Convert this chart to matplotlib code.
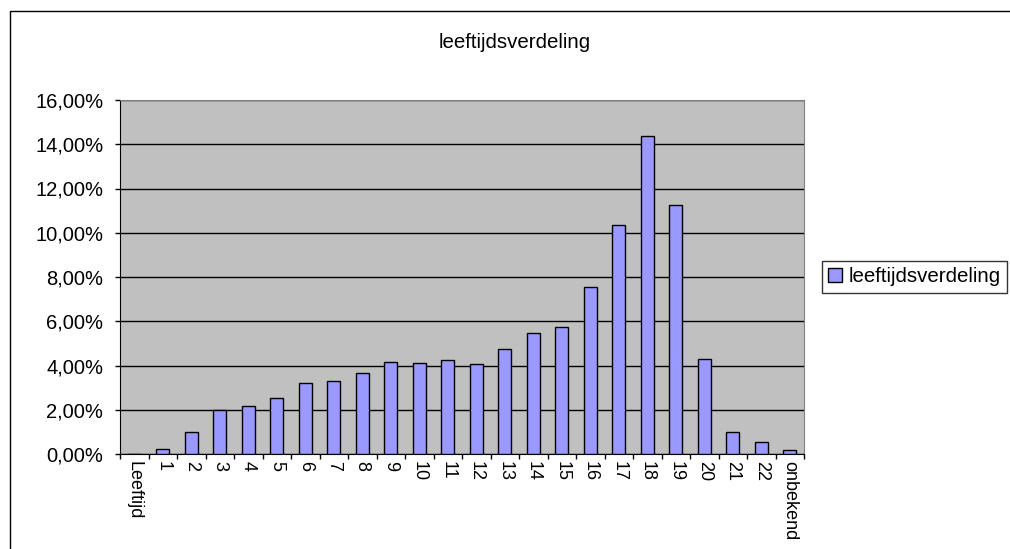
import matplotlib.pyplot as plt
from matplotlib.patches import Rectangle
from matplotlib.ticker import FuncFormatter, FixedLocator, NullFormatter
import numpy as np

# Data
categories = ['Leeftijd', '1', '2', '3', '4', '5', '6', '7', '8', '9', '10', '11',
              '12', '13', '14', '15', '16', '17', '18', '19', '20', '21', '22', 'onbekend']
shares = [0.0, 0.22, 0.98, 1.97, 2.17, 2.52, 3.22, 3.30, 3.65, 4.14, 4.13, 4.27,
          4.06, 4.76, 5.46, 5.73, 7.54, 10.33, 14.38, 11.24, 4.29, 0.98, 0.56, 0.16]
series_name = 'leeftijdsverdeling'
y_ticks = [0, 2, 4, 6, 8, 10, 12, 14, 16]

plt.rcParams['font.family'] = ['Liberation Sans', 'DejaVu Sans']

W, H = 1010, 549
fig = plt.figure(figsize=(W / 100, H / 100), dpi=100)

# chart area border (right and bottom run off the picture)
fig.patches.append(Rectangle((10 / W, -0.2), 1.2, 1.2 - 11 / H, transform=fig.transFigure,
                             fill=False, edgecolor='black', linewidth=1.0))

ax = fig.add_axes([120 / W, 1 - 454 / H, (804 - 120) / W, (454 - 100) / H])
ax.set_facecolor('#C0C0C0')

x = np.arange(len(categories))
ax.bar(x, shares, width=0.44, color='#9999FF', edgecolor='black', linewidth=1.0, zorder=3,
       label=series_name)

ax.set_xlim(-0.5, len(categories) - 0.5)
ax.set_ylim(0, 16)
ax.set_yticks(y_ticks)
ax.yaxis.set_major_formatter(FuncFormatter(lambda v, p: f'{v:.2f}%'.replace('.', ',')))
ax.grid(axis='y', color='black', linewidth=1.0, zorder=1)

# category boundaries as ticks, labels in the middle
ax.xaxis.set_major_locator(FixedLocator(np.arange(len(categories) + 1) - 0.5))
ax.xaxis.set_major_formatter(NullFormatter())
ax.xaxis.set_minor_locator(FixedLocator(x))
ax.set_xticklabels(categories, minor=True, rotation=-90, fontsize=13)
ax.tick_params(axis='x', which='minor', length=0, pad=5)
ax.tick_params(axis='x', which='major', length=3.6, width=1, direction='out')
ax.tick_params(axis='y', length=3.6, width=1, direction='out', labelsize=14.5, pad=8.5)

for side in ['top', 'right']:
    ax.spines[side].set_color('#808080')
for side in ['left', 'bottom']:
    ax.spines[side].set_color('black')

fig.text(515 / W, 1 - 42 / H, series_name, ha='center', va='center', fontsize=14.8)

leg = fig.legend(loc='center left', bbox_to_anchor=(822 / W, 1 - 277 / H), fontsize=14.8,
                 frameon=True, fancybox=False, edgecolor='black', handlelength=0.65,
                 handleheight=0.65, handletextpad=0.35, borderpad=0.3, borderaxespad=0)
leg.get_frame().set_linewidth(1.0)

fig.savefig('out.png', dpi=100)
